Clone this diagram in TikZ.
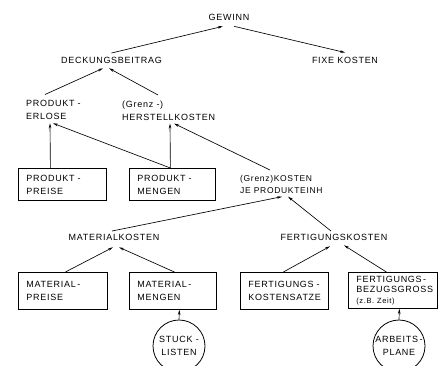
\documentclass[tikz,border=0pt]{standalone}
\usepackage{fontspec}
\setmainfont{Liberation Sans}[LetterSpace=8]
\usetikzlibrary{arrows.meta}
\begin{document}
\begin{tikzpicture}[x=1pt,y=-1pt,
  every node/.style={font=\fontsize{9}{13}\selectfont, inner sep=0pt},
  lbl/.style={anchor=base},
  lbl2/.style={anchor=north west, align=left},
  box/.style={draw, line width=0.8pt, anchor=north west, align=left,
    inner xsep=8pt, inner ysep=0pt, text width=#1-16pt, minimum width=#1, minimum height=32pt},
  circ/.style={draw, circle, line width=0.8pt, minimum size=52pt, align=center},
  arr/.style={line width=0.65pt, -{Stealth[length=5pt,width=2.6pt]}}]
\useasboundingbox (0,0) rectangle (444,365);
% text nodes
\node[lbl] (gewinn) at (229,20) {GEWINN};
\node[lbl] (fixe) at (345,63) {FIXE KOSTEN};
\node[lbl] (db) at (111.5,63) {DECKUNGSBEITRAG};
\node[lbl2] (erlose) at (26,100.5) {PRODUKT -\\ERLOSE};
\node[lbl2] (herst) at (122,100.5) {(Grenz -)\\HERSTELLKOSTEN};
\node[lbl2, font=\fontsize{8.5}{12.5}\selectfont] (kje) at (240,175) {(Grenz)KOSTEN\\JE PRODUKTEINH};
\node[lbl] (matk) at (114,240) {MATERIALKOSTEN};
\node[lbl] (fertk) at (334,240) {FERTIGUNGSKOSTEN};
% boxes
\node[box=88pt] (preise) at (18,168) {PRODUKT -\\PREISE};
\node[box=86pt] (mengen) at (129,168) {PRODUKT -\\MENGEN};
\node[box=89pt, minimum height=37pt] (mpreise) at (18,272) {MATERIAL\,-\\PREISE};
\node[box=87pt, minimum height=37pt] (mmengen) at (129,272) {MATERIAL\,-\\MENGEN};
\node[box=88pt, minimum height=37pt] (fks) at (240,272) {FERTIGUNGS -\\KOSTENSATZE};
\node[box=89pt, minimum height=36pt, font=\fontsize{9}{10.5}\selectfont] (fbz) at (348,272) {FERTIGUNGS\,-\\BEZUGSGROSS\\{\fontsize{7.5}{9}\selectfont(z.B. Zeit)}};
% circles
\node[circ] (stueck) at (179,346) {STUCK -\\LISTEN};
\node[circ] (arbeit) at (399,346) {ARBEITS\,-\\PLANE};
% connectors
\draw[arr] ([yshift=3.5pt]db.north) -- ([xshift=-6pt,yshift=-6pt]gewinn.south);
\draw[arr] ([xshift=5pt,yshift=-6pt]gewinn.south) -- ([yshift=4pt]fixe.north);
\draw[arr] ([xshift=19pt,yshift=6pt]erlose.north west) -- ([xshift=-8.5pt,yshift=-5pt]db.south);
\draw[arr] ([xshift=36pt,yshift=5.5pt]herst.north west) -- ([xshift=-2.5pt,yshift=-5pt]db.south);
\draw[arr] ([xshift=-12pt]preise.north) -- ([xshift=24pt,yshift=-3pt]erlose.south west);
\draw[arr] ([xshift=-2pt]mengen.north) -- ([xshift=27pt,yshift=-3pt]erlose.south west);
\draw[arr] ([xshift=-2pt]mengen.north) -- ([xshift=48pt,yshift=-3pt]herst.south west);
\draw[arr] ([xshift=30pt,yshift=5pt]kje.north west) -- ([xshift=52pt,yshift=-3pt]herst.south west);
\draw[arr] ([xshift=-2pt,yshift=2.5pt]matk.north) -- ([xshift=42pt,yshift=-2.5pt]kje.south west);
\draw[arr] ([xshift=-3pt,yshift=2.5pt]fertk.north) -- ([xshift=48pt,yshift=-2.5pt]kje.south west);
\draw[arr] ([xshift=2.5pt]mpreise.north) -- ([xshift=-1pt,yshift=-7pt]matk.south);
\draw[arr] ([xshift=1.5pt]mmengen.north) -- ([xshift=5pt,yshift=-7pt]matk.south);
\draw[arr] ([xshift=-1pt]fks.north) -- ([xshift=-4pt,yshift=-6pt]fertk.south);
\draw[arr] ([xshift=-6.5pt]fbz.north) -- ([xshift=10pt,yshift=-5pt]fertk.south);
\draw[arr] (stueck.north) -- ([xshift=6.5pt]mmengen.south);
\draw[arr] (arbeit.north) -- ([xshift=6.5pt]fbz.south);
\end{tikzpicture}
\end{document}
